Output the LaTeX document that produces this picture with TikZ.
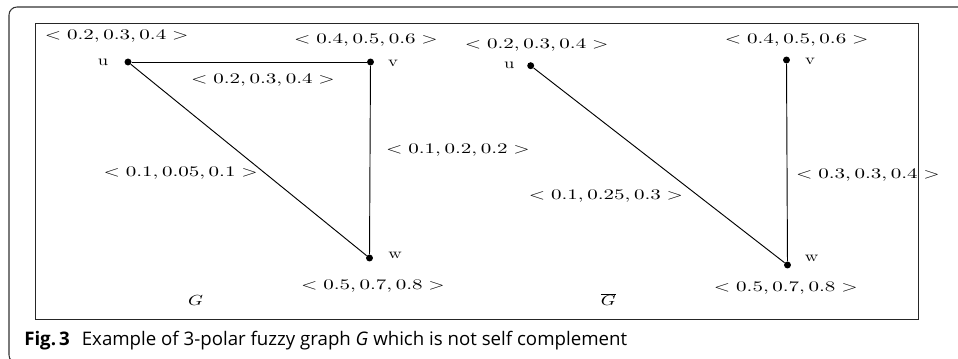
\documentclass[tikz,border=0pt]{standalone}
\usepackage{graphicx}
\usepackage{fontspec}
\newfontfamily\capfont{Open Sans}
\newcommand{\lab}[1]{\scalebox{1.44}[1]{$#1$}}
\newcommand{\vl}[1]{\scalebox{1.3}[1]{\textrm{#1}}}
\begin{document}
\begin{tikzpicture}[x=0.75pt,y=-0.75pt,
  dot/.style={circle,fill=black,inner sep=0pt,minimum size=5.2pt},
  txt/.style={anchor=base,inner sep=0pt,font=\fontsize{11}{13}\selectfont},
  edge/.style={draw=black,line width=0.7pt}]
\useasboundingbox (0,0) rectangle (958,359);
\begin{scope}
  \clip (0,0) rectangle (958,359);
  \draw[black!80,line width=0.8pt,rounded corners=6pt] (9,7) rectangle (990,363);
\end{scope}
\node[draw=black!85,line width=0.8pt,inner sep=0pt,anchor=north west,minimum width=883*0.75pt,minimum height=296*0.75pt] (frame) at (35,23) {};
% graph G
\node[dot] (u1) at (128,62) {};
\node[dot] (v1) at (370.5,62) {};
\node[dot] (w1) at (369.5,258) {};
\draw[edge] (u1) -- (v1);
\draw[edge] (v1) -- (w1);
\draw[edge] (u1) -- (w1);
\node[txt] (u1n) at (103,65.5) {\vl{u}};
\node[txt] (v1n) at (393,66.5) {\vl{v}};
\node[txt] (w1n) at (395,258.5) {\vl{w}};
\node[txt] (u1l) at (116.7,39.8) {\lab{<0.2,0.3,0.4>}};
\node[txt] (v1l) at (366,44) {\lab{<0.4,0.5,0.6>}};
\node[txt] (uv1l) at (263,83.8) {\lab{<0.2,0.3,0.4>}};
\node[txt] (vw1l) at (458,153.8) {\lab{<0.1,0.2,0.2>}};
\node[txt] (uw1l) at (180.7,176.4) {\lab{<0.1,0.05,0.1>}};
\node[txt] (w1l) at (373,289.8) {\lab{<0.5,0.7,0.8>}};
\node[txt] (g1) at (195.7,306) {\scalebox{1.3}[1]{$G$}};
% complement
\node[dot] (u2) at (530.7,65.7) {};
\node[dot] (v2) at (786.5,60) {};
\node[dot] (w2) at (787.5,265) {};
\draw[edge] (v2) -- (w2);
\draw[edge] (u2) -- (w2);
\node[txt] (u2n) at (509.3,68.5) {\vl{u}};
\node[txt] (v2n) at (810,65) {\vl{v}};
\node[txt] (w2n) at (811.7,261.6) {\vl{w}};
\node[txt] (u2l) at (536.7,48.8) {\lab{<0.2,0.3,0.4>}};
\node[txt] (v2l) at (796.7,44) {\lab{<0.4,0.5,0.6>}};
\node[txt] (vw2l) at (868,178.8) {\lab{<0.3,0.3,0.4>}};
\node[txt] (uw2l) at (606,199.8) {\lab{<0.1,0.25,0.3>}};
\node[txt] (w2l) at (785.8,292) {\lab{<0.5,0.7,0.8>}};
\node[txt] (g2) at (608.3,306) {\scalebox{1.3}[1]{$\overline{G}$}};
% caption
\node[anchor=base west,inner sep=0pt,font=\capfont\fontsize{14}{16}\selectfont] (cap) at (24,346) {\textbf{Fig.\,3}\hspace{9pt}Example of 3-polar fuzzy graph \textit{G} which is not self complement};
\end{tikzpicture}
\end{document}
